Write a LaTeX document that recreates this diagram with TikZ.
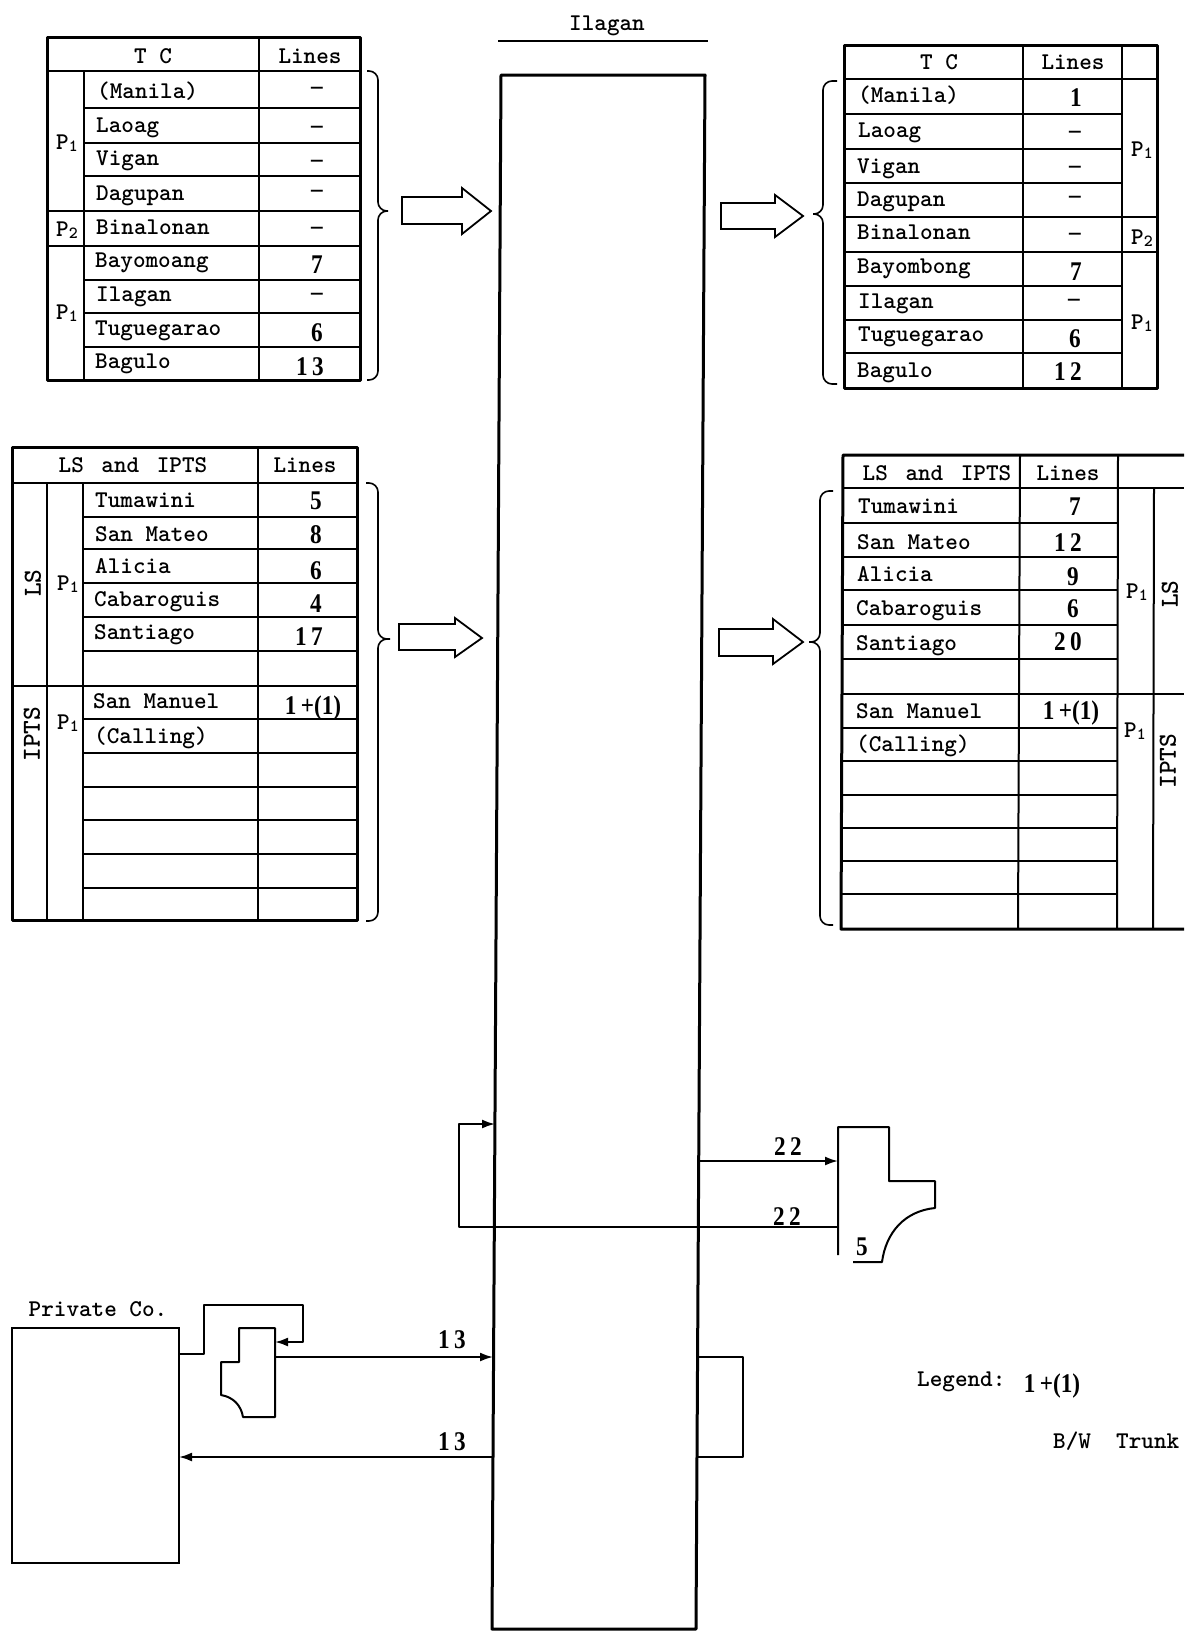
\documentclass[tikz,border=0pt]{standalone}
\usepackage{fontspec}
\usetikzlibrary{arrows.meta}
\newfontfamily\digitfont{Liberation Serif}[FakeStretch=0.86]
\tikzset{
  lbl/.style={font=\fontsize{24}{24}\selectfont\ttfamily\bfseries,anchor=base west,inner sep=0pt},
  hdr/.style={font=\fontsize{24}{24}\selectfont\ttfamily\bfseries,anchor=base,inner sep=0pt},
  num/.style={font=\fontsize{27}{27}\selectfont\digitfont\bfseries,anchor=base,inner sep=0pt},
  side/.style={font=\fontsize{26}{26}\selectfont\ttfamily\bfseries,inner sep=0pt,rotate=90},
  grid/.style={line width=2pt},
  frame/.style={line width=3pt,line join=round},
  wire/.style={line width=2pt,line join=round},
  flow/.style={wire,-{Latex[length=13pt,width=9pt]}},
  bigarrow/.style={line width=1.8pt,line join=miter},
  bracket/.style={line width=1.6pt},
}
\newcommand{\psub}[1]{P\raisebox{-2pt}{\fontsize{17}{17}\selectfont #1}}
\begin{document}
\begin{tikzpicture}[x=1pt,y=-1pt]
\useasboundingbox (0,0) rectangle (1184,1631);
% exchange
\node[hdr] (ilagan) at (607,30){Ilagan};
\draw[line width=2.4pt] (498,41)--(708,41);
\coordinate (tnw) at (501,75);\coordinate (tne) at (705,75);\coordinate (tse) at (696,1629);\coordinate (tsw) at (492,1629);
\draw[frame] (tnw)--(tne)--(tse)--(tsw)--cycle;
% top left table
\draw[frame] (47,37) rectangle (360,380);
\draw[grid] (47,71)--(360,71) (47,211)--(360,211) (47,246)--(360,246);
\draw[grid] (84,108)--(360,108) (84,143)--(360,143) (84,176)--(360,176) (84,280)--(360,280) (84,313)--(360,313) (84,347)--(360,347);
\draw[grid] (84,71)--(84,380) (259,37)--(259,380);
\node[hdr] (tlh) at (153,63){T C};
\node[hdr] (tll) at (310,63){Lines};
\node[hdr] (tlp1) at (67,149){\psub{1}};
\node[hdr] (tlp2) at (67,236){\psub{2}};
\node[hdr] (tlp3) at (67,319){\psub{1}};
\node[lbl] (tl1) at (97,98){(Manila)};
\node[lbl] (tl2) at (96,132){Laoag};
\node[lbl] (tl3) at (96,165){Vigan};
\node[lbl] (tl4) at (96,200){Dagupan};
\node[lbl] (tl5) at (96,234){Binalonan};
\node[lbl] (tl6) at (95,267){Bayomoang};
\node[lbl] (tl7) at (96,301){Ilagan};
\node[lbl] (tl8) at (95,335){Tuguegarao};
\node[lbl] (tl9) at (95,368){Bagulo};
\node[num] (tln1) at (317,94){\textendash};
\node[num] (tln2) at (317,133){\textendash};
\node[num] (tln3) at (317,167){\textendash};
\node[num] (tln4) at (317,197){\textendash};
\node[num] (tln5) at (317,234){\textendash};
\node[num] (tln6) at (317,273){7};
\node[num] (tln7) at (317,300){\textendash};
\node[num] (tln8) at (317,341){6};
\node[num] (tln9) at (310,375){1\,3};
\draw[bracket,rounded corners=9pt] (367,71)--(378,71)--(378,211)[sharp corners]--(388,211)[rounded corners=9pt]--(378,211)--(378,380)--(367,380);
\draw[bigarrow] (402,197)--(462,197)--(462,188)--(491,211)--(462,234)--(462,224)--(402,224)--cycle;
% top right table
\draw[frame] (844,45) rectangle (1157,388);
\draw[grid] (844,79)--(1157,79) (844,217)--(1157,217) (844,252)--(1157,252);
\draw[grid] (844,114)--(1122,114) (844,149)--(1122,149) (844,183)--(1122,183) (844,286)--(1122,286) (844,320)--(1122,320) (844,353)--(1122,353);
\draw[grid] (1023,45)--(1023,388) (1122,45)--(1122,388);
\node[hdr] (trh) at (939,69){T C};
\node[hdr] (trl) at (1073,69){Lines};
\node[hdr] (trp1) at (1142,156){\psub{1}};
\node[hdr] (trp2) at (1142,244){\psub{2}};
\node[hdr] (trp3) at (1142,329){\psub{1}};
\node[lbl] (tr1) at (858,102){(Manila)};
\node[lbl] (tr2) at (858,137){Laoag};
\node[lbl] (tr3) at (857,173){Vigan};
\node[lbl] (tr4) at (857,206){Dagupan};
\node[lbl] (tr5) at (857,239){Binalonan};
\node[lbl] (tr6) at (857,273){Bayombong};
\node[lbl] (tr7) at (858,308){Ilagan};
\node[lbl] (tr8) at (858,341){Tuguegarao};
\node[lbl] (tr9) at (857,377){Bagulo};
\node[num] (trn1) at (1076,106){1};
\node[num] (trn2) at (1075,138){\textendash};
\node[num] (trn3) at (1075,173){\textendash};
\node[num] (trn4) at (1075,203){\textendash};
\node[num] (trn5) at (1075,240){\textendash};
\node[num] (trn6) at (1076,280){7};
\node[num] (trn7) at (1074,306){\textendash};
\node[num] (trn8) at (1075,347){6};
\node[num] (trn9) at (1068,380){1\,2};
\draw[bracket,rounded corners=9pt] (837,81)--(823,81)--(823,214)[sharp corners]--(813,214)[rounded corners=9pt]--(823,214)--(823,384)--(837,384);
\draw[bigarrow] (721,203)--(775,203)--(775,195)--(803,216)--(775,237)--(775,229)--(721,229)--cycle;
% lower left table
\draw[frame] (12,447) rectangle (357,920);
\draw[grid] (12,483)--(357,483) (12,686)--(357,686);
\draw[grid] (83,517)--(357,517) (83,549)--(357,549) (83,583)--(357,583) (83,617)--(357,617) (83,651)--(357,651) (83,719)--(357,719) (83,753)--(357,753) (83,787)--(357,787) (83,820)--(357,820) (83,854)--(357,854) (83,888)--(357,888);
\draw[grid] (47,483)--(47,920) (83,483)--(83,920) (258,447)--(258,920);
\node[hdr] (blh) at (133,472){LS\hspace{5pt} and\hspace{5pt} IPTS};
\node[hdr] (bll) at (305,472){Lines};
\node[side] (bls1) at (33,583){LS};
\node[side] (bls2) at (32,734){IPTS};
\node[hdr] (blp1) at (68,590){\psub{1}};
\node[hdr] (blp2) at (68,729){\psub{1}};
\node[lbl] (bl1) at (95,507){Tumawini};
\node[lbl] (bl2) at (95,541){San Mateo};
\node[lbl] (bl3) at (95,573){Alicia};
\node[lbl] (bl4) at (94,606){Cabaroguis};
\node[lbl] (bl5) at (94,639){Santiago};
\node[lbl] (bl6) at (93,708){San Manuel};
\node[lbl] (bl7) at (94,743){(Calling)};
\node[num] (bln1) at (316,509){5};
\node[num] (bln2) at (316,543){8};
\node[num] (bln3) at (316,579){6};
\node[num] (bln4) at (316,612){4};
\node[num] (bln5) at (309,645){1\,7};
\node[num] (bln6) at (313,714){1\,+(1)};
\draw[bracket,rounded corners=9pt] (366,483)--(378,483)--(378,639)[sharp corners]--(390,639)[rounded corners=9pt]--(378,639)--(378,921)--(366,921);
\draw[bigarrow] (399,624)--(455,624)--(455,618)--(482,638)--(455,657)--(455,650)--(399,650)--cycle;
% lower right table
\draw[frame] (1184,455)--(843,455)--(841,929)--(1184,929);
\draw[grid] (842,488)--(1184,488) (842,694)--(1184,694);
\draw[grid] (842,523)--(1118,523) (842,557)--(1118,557) (842,590)--(1118,590) (842,625)--(1118,625) (842,659)--(1118,659) (842,728)--(1118,728) (842,761)--(1118,761) (842,795)--(1118,795) (842,828)--(1118,828) (842,861)--(1118,861) (842,894)--(1118,894);
\draw[grid] (1020,455)--(1018,929) (1118,455)--(1117,929) (1154,488)--(1153,929);
\node[hdr] (brh) at (937,480){LS\hspace{5pt} and\hspace{5pt} IPTS};
\node[hdr] (brl) at (1068,480){Lines};
\node[side] (brs1) at (1170,594){LS};
\node[side] (brs2) at (1168,761){IPTS};
\node[hdr] (brp1) at (1137,598){\psub{1}};
\node[hdr] (brp2) at (1135,737){\psub{1}};
\node[lbl] (br1) at (858,513){Tumawini};
\node[lbl] (br2) at (857,549){San Mateo};
\node[lbl] (br3) at (857,581){Alicia};
\node[lbl] (br4) at (856,615){Cabaroguis};
\node[lbl] (br5) at (856,650){Santiago};
\node[lbl] (br6) at (856,718){San Manuel};
\node[lbl] (br7) at (856,751){(Calling)};
\node[num] (brn1) at (1075,515){7};
\node[num] (brn2) at (1068,551){1\,2};
\node[num] (brn3) at (1073,585){9};
\node[num] (brn4) at (1073,617){6};
\node[num] (brn5) at (1068,650){2\,0};
\node[num] (brn6) at (1071,719){1\,+(1)};
\draw[bracket,rounded corners=9pt] (833,491)--(820,491)--(820,642)[sharp corners]--(809,642)[rounded corners=9pt]--(820,642)--(820,925)--(833,925);
\draw[bigarrow] (719,629)--(773,629)--(773,619)--(803,642)--(773,664)--(773,656)--(719,656)--cycle;
% trunk symbol
\coordinate (tin) at (838,1161);\coordinate (tback) at (838,1227);\coordinate (eout) at (699,1161);
\coordinate (ein) at (495,1124);\coordinate (lup) at (459,1124);\coordinate (ldn) at (459,1227);
\draw[wire] (838,1255)--(838,1127)--(889,1127)--(889,1181)--(935,1181)--(935,1208) .. controls (905,1211) and (886,1232) .. (882,1262)--(853,1262);
\node[num] (five) at (862,1255){5};
\draw[flow] (eout)--(tin);
\draw[flow] (tback)--(ldn)--(lup)--(ein);
\node[num] (n22a) at (788,1155){2\,2};
\node[num] (n22b) at (787,1225){2\,2};
% stub
\coordinate (sta) at (697,1357);\coordinate (stb) at (743,1357);\coordinate (stc) at (743,1457);\coordinate (std) at (697,1457);
\draw[wire] (sta)--(stb)--(stc)--(std);
% private company
\node[draw,line width=2.4pt,minimum width=167pt,minimum height=235pt,inner sep=0pt] (privco) at (95.5,1445.5){};
\node[hdr] (privlbl) at (98,1316){Private Co.};
\coordinate (pt) at (275,1357);\coordinate (pb) at (275,1342);
\coordinate (ea) at (493,1357);\coordinate (eb) at (494,1457);\coordinate (pin) at (179,1457);\coordinate (pout) at (179,1354);
\draw[wire] (239,1328)--(275,1328)--(275,1417)--(243,1417) .. controls (241,1405) and (233,1397) .. (221,1395)--(221,1362)--(239,1362)--cycle;
\draw[flow] (pout)--(204,1354)--(204,1305)--(303,1305)--(303,1342)--(pb);
\draw[flow] (pt)--(ea);
\draw[flow] (eb)--(pin);
\node[num] (n13a) at (452,1348){1\,3};
\node[num] (n13b) at (452,1450){1\,3};
% legend
\node[lbl] (lgd) at (917,1386){Legend:};
\node[num] (lgn) at (1052,1392){1\,+(1)};
\node[lbl] (lgt) at (1053,1448){B/W\ \ Trunk};
\end{tikzpicture}
\end{document}
